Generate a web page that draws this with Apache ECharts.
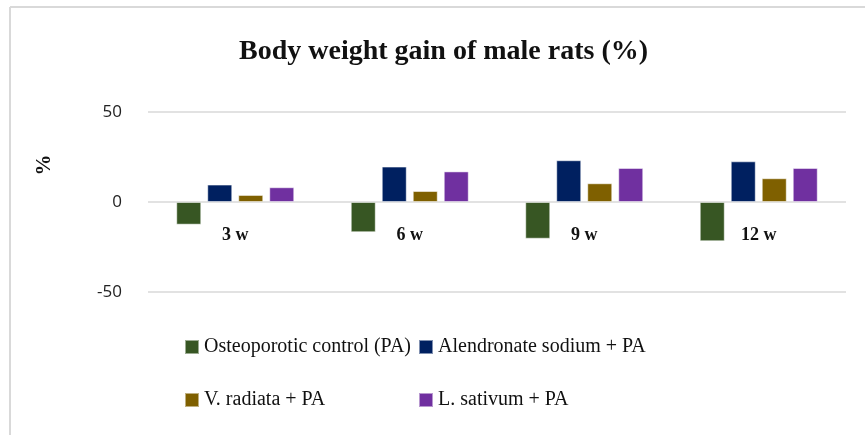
<!DOCTYPE html>
<html>
<head>
<meta charset="utf-8">
<script src="https://cdn.jsdelivr.net/npm/echarts@6/dist/echarts.min.js"></script>
<style>html,body{margin:0;padding:0;background:#fff}#c{width:865px;height:435px}</style>
</head>
<body>
<div id="c"></div>
<script>
const categories = ['3 w', '6 w', '9 w', '12 w'];
const seriesNames = ['Osteoporotic control (PA)', 'Alendronate sodium + PA', 'V. radiata + PA', 'L. sativum + PA'];
const osteoporotic = [-12.6, -16.8, -20.4, -21.8];
const alendronate = [9.7, 19.7, 23.2, 22.6];
const radiata = [3.9, 6.1, 10.4, 13.2];
const sativum = [8.2, 17.0, 18.9, 18.9];
const colors = ['#375623', '#002060', '#7F6000', '#7030A0'];
const yTicks = { min: -50, max: 50, interval: 50 };

const serif = '"Liberation Serif", "DejaVu Serif", serif';
const values = [osteoporotic, alendronate, radiata, sativum];

const chart = echarts.init(document.getElementById('c'));
chart.setOption({
  animation: false,
  backgroundColor: '#fff',
  title: {
    text: 'Body weight gain of male rats (%)',
    left: 234, top: 33,
    textStyle: { fontFamily: serif, fontWeight: 'bold', fontSize: 28, color: '#111' }
  },
  graphic: [
    { type: 'line', shape: { x1: 10, y1: 7, x2: 865, y2: 7 }, style: { stroke: '#d9d9d9', lineWidth: 2 } },
    { type: 'line', shape: { x1: 10, y1: 7, x2: 10, y2: 435 }, style: { stroke: '#d9d9d9', lineWidth: 2 } },
    { type: 'text', x: 45, y: 165, rotation: Math.PI / 2,
      style: { text: '%', font: 'bold 21px ' + serif, fill: '#111', align: 'center', verticalAlign: 'middle' } }
  ],
  legend: [
    { data: [seriesNames[0], seriesNames[2]], orient: 'vertical', left: 179, top: 332,
      itemWidth: 14, itemHeight: 14, itemGap: 33, icon: 'rect',
      textStyle: { fontFamily: serif, fontSize: 20, color: '#111' } },
    { data: [seriesNames[1], seriesNames[3]], orient: 'vertical', left: 413, top: 332,
      itemWidth: 14, itemHeight: 14, itemGap: 33, icon: 'rect',
      textStyle: { fontFamily: serif, fontSize: 20, color: '#111' } }
  ],
  grid: { left: 148, right: 19, top: 112, bottom: 143, containLabel: false },
  xAxis: {
    type: 'category', data: categories, position: 'bottom', offset: -90,
    axisLine: { show: false, onZero: false },
    axisTick: { show: false },
    axisLabel: { margin: 24, fontFamily: serif, fontWeight: 'bold', fontSize: 18, color: '#111' }
  },
  yAxis: {
    type: 'value', min: yTicks.min, max: yTicks.max, interval: yTicks.interval,
    axisLine: { show: false }, axisTick: { show: false },
    splitLine: { lineStyle: { color: '#d9d9d9', width: 1.5 } },
    axisLabel: { margin: 26, fontFamily: '"Open Sans", "Noto Sans", sans-serif', fontSize: 17, color: '#222' }
  },
  series: seriesNames.map((n, i) => ({
    name: n, type: 'bar', data: values[i],
    barWidth: 25, barGap: '24%',
    itemStyle: { color: colors[i], borderColor: 'rgba(255,255,255,0.5)', borderWidth: 1 }
  }))
});
</script>
</body>
</html>
